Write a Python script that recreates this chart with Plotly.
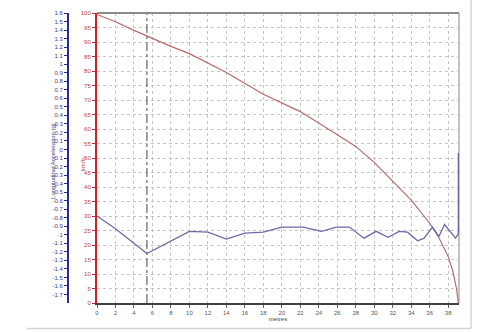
import plotly.graph_objects as go

# Speed (km/h) vs distance (metres)
speed_x = [0, 2, 4, 5.4, 8, 10, 14, 18, 22, 26, 28, 30, 32, 34, 36, 37, 38, 38.5, 38.9, 39.1]
speed_kmh = [99.5, 97, 94, 92, 88.5, 86, 79.5, 72, 66, 58, 54, 48.5, 42, 35.5, 27.5, 22.5, 16, 11, 5, 0]

# Longitudinal acceleration (g) vs distance (metres)
acc_x = [0, 2, 5.4, 10, 12, 14, 16, 18, 20, 22.3, 24.3, 25.9, 27.3, 28.9, 30.2, 31.5,
         32.7, 33.6, 34.7, 35.4, 36.3, 37.0, 37.6, 38.8, 39.1, 39.1]
acc_g = [-0.78, -0.93, -1.22, -0.96, -0.97, -1.05, -0.98, -0.97, -0.91, -0.91, -0.96, -0.91,
         -0.91, -1.04, -0.96, -1.03, -0.96, -0.97, -1.07, -1.04, -0.91, -1.02, -0.88, -1.04,
         -0.99, -0.04]

marker_x = 5.4

x_ticks = list(range(0, 39, 2))
kmh_ticks = list(range(0, 101, 5))
acc_tick_labels = ["1.6", "1.5", "1.4", "1.3", "1.2", "1.1", "1", "0.9", "0.8", "0.7", "0.6",
                   "0.5", "0.4", "0.3", "0.2", "0.1", "0", "-0.1", "-0.2", "-0.3", "-0.4",
                   "-0.5", "-0.6", "-0.7", "-0.8", "-0.9", "-1", "-1.1", "-1.2", "-1.3",
                   "-1.4", "-1.5", "-1.6", "-1.7"]
acc_tick_vals = [float(t) for t in acc_tick_labels]

FONT = "Liberation Sans, Arial, sans-serif"
RED_LINE = "#b86a6a"
BLUE_LINE = "#6a6aa8"

fig = go.Figure()
fig.add_trace(go.Scatter(x=speed_x, y=speed_kmh, mode="lines", yaxis="y",
                         line=dict(color=RED_LINE, width=1.2), showlegend=False))
fig.add_trace(go.Scatter(x=acc_x, y=acc_g, mode="lines", yaxis="y2",
                         line=dict(color=BLUE_LINE, width=1.3), showlegend=False))

L = 20
W = 500
plot_w = W - L - 41
x0_frac = (97 - L) / plot_w

fig.update_layout(
    width=500, height=332,
    margin=dict(l=L, r=41, t=10, b=27),
    paper_bgcolor="white", plot_bgcolor="white",
    font=dict(family=FONT, size=6),
    xaxis=dict(domain=[x0_frac, 1], range=[0, 39.17], tickvals=x_ticks,
               showgrid=True, gridcolor="#c4c4c4", griddash="dot", gridwidth=1,
               showline=True, linecolor="#404040", linewidth=2,
               ticks="outside", ticklen=3, tickcolor="#606060",
               tickfont=dict(size=6, color="#555555"),
               zeroline=False,
               title=dict(text="metres", font=dict(size=6, color="#444444"), standoff=2)),
    yaxis=dict(range=[0, 100], tickvals=kmh_ticks,
               showgrid=True, gridcolor="#c4c4c4", griddash="dot", gridwidth=1,
               showline=True, linecolor="#d42020", linewidth=2,
               ticks="outside", ticklen=3, tickcolor="#d42020",
               tickfont=dict(size=6, color="#c04040"), zeroline=False),
    yaxis2=dict(range=[-1.8, 1.6], overlaying="y", anchor="free", side="left",
                position=(68 - L) / plot_w,
                tickvals=acc_tick_vals, ticktext=acc_tick_labels,
                showgrid=False, zeroline=False,
                showline=True, linecolor="#2a2a9a", linewidth=2,
                ticks="outside", ticklen=3, tickcolor="#2a2a9a",
                tickfont=dict(size=6, color="#3a3a8a")),
)

# axis titles
fig.add_annotation(xref="paper", yref="paper", x=(78 - L) / plot_w, y=0.475,
                   text="km/h", textangle=-90, showarrow=False,
                   font=dict(size=6, color="#c04040"))
fig.add_annotation(xref="paper", yref="paper", x=(48 - L) / plot_w, y=0.49,
                   text="Longitudinal Acceleration (g)", textangle=-90, showarrow=False,
                   font=dict(size=6, color="#3a3a8a"))

# dash-dot marker line
fig.add_shape(type="line", xref="x", yref="paper", x0=marker_x, x1=marker_x, y0=0, y1=1,
              line=dict(color="#707070", width=1.3, dash="dashdot"))
# top and right borders of plot area
fig.add_shape(type="line", xref="paper", yref="paper", x0=x0_frac, x1=1, y0=1, y1=1,
              line=dict(color="#8a8a8a", width=2))
fig.add_shape(type="line", xref="paper", yref="paper", x0=1, x1=1, y0=0, y1=1,
              layer="below", line=dict(color="#9a9a9a", width=1.2))
# outer frame of the picture
fig.add_shape(type="line", xref="paper", yref="paper",
              x0=(27 - L) / plot_w, x1=(471 - L) / plot_w, y0=-(331 - 305) / 295, y1=-(331 - 305) / 295,
              line=dict(color="#d4d4d4", width=1.5))
fig.add_shape(type="line", xref="paper", yref="paper",
              x0=(471 - L) / plot_w, x1=(471 - L) / plot_w, y0=-(331 - 305) / 295, y1=(305 + 5) / 295,
              line=dict(color="#d4d4d4", width=1.5))

fig.write_html("out.html")
